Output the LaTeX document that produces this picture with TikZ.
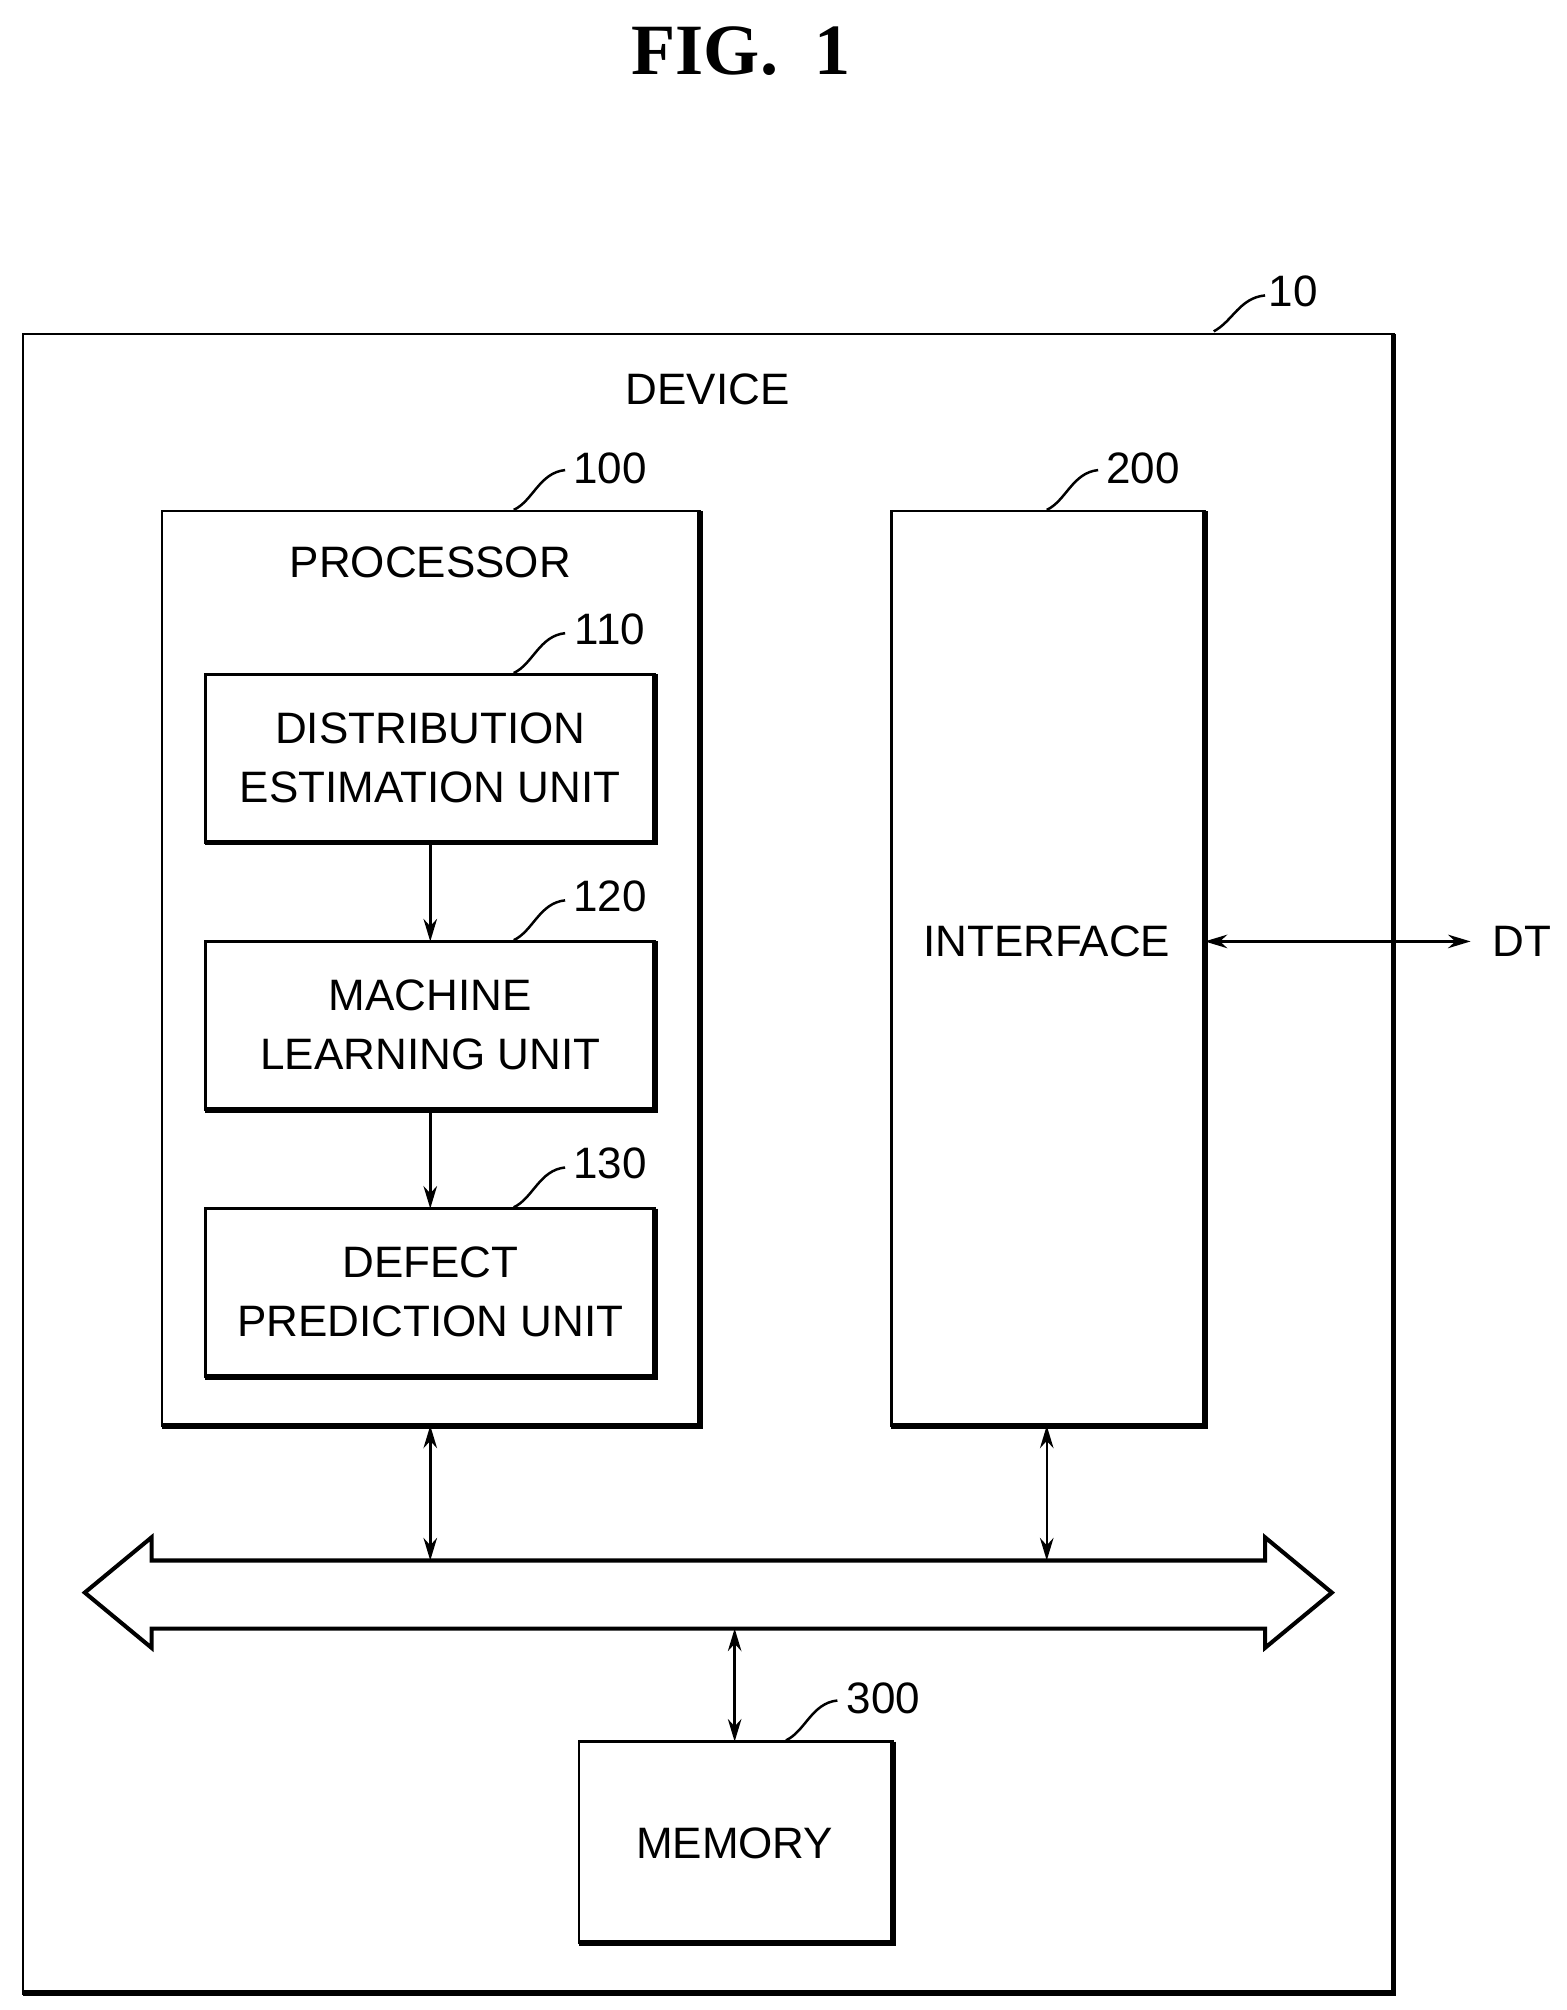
\documentclass[tikz,border=0pt]{standalone}
\usepackage{fontspec}
\setmainfont{Liberation Sans}
\newfontfamily\titlefont{Liberation Serif}
\usetikzlibrary{arrows.meta}
\begin{document}
\begin{tikzpicture}[x=0.02cm,y=-0.02cm,
  txt/.style={font=\fontsize{19.5}{24}\selectfont,align=center,inner sep=0},
  box/.style={draw,line width=1.1pt},
  shd/.style={line width=2.6pt},
  lead/.style={line width=1.1pt},
  arr/.style={line width=1.1pt,{Stealth[length=10pt,width=6pt]}-{Stealth[length=10pt,width=6pt]}},
  one/.style={line width=1.1pt,-{Stealth[length=10pt,width=6pt]}}]
\useasboundingbox (0,0) rectangle (1220,1565);
\node[font=\titlefont\bfseries\fontsize{32}{36}\selectfont] (title) at (577,40) {FIG.\ \ 1};
% outer
\draw[box] (18,260) rectangle (1085,1552);
\draw[shd] (1085,260) -- (1085,1552) -- (18,1552);
\node[txt] (l10) at (1007,227) {10};
\draw[lead] (945,258) .. controls (960,250) and (965,232) .. (985,230);
\node[txt] (dev) at (551,303) {DEVICE};
% processor
\draw[box] (126,398) rectangle (545,1110);
\draw[shd] (545,398) -- (545,1110) -- (126,1110);
\node[txt] (l100) at (475,365) {100};
\draw[lead] (400,397) .. controls (415,390) and (420,368) .. (440,366);
\node[txt] (proc) at (335,438) {PROCESSOR};
% units
\foreach \n/\y/\a/\b in {110/525/DISTRIBUTION/ESTIMATION UNIT,120/733/MACHINE/LEARNING UNIT,130/941/DEFECT/PREDICTION UNIT}{
  \draw[box] (160,\y) rectangle (510,\y+131);
  \draw[shd] (510,\y) -- (510,\y+131) -- (160,\y+131);
  \node[txt] (u\n) at (335,\y+65) {\a\\[2pt]\b};
  \node[txt] (l\n) at (475,\y-35) {\n};
  \draw[lead] (400,\y-1) .. controls (415,\y-8) and (420,\y-30) .. (440,\y-32);
}
\coordinate (a1) at (335,656); \coordinate (b1) at (335,733);
\coordinate (a2) at (335,864); \coordinate (b2) at (335,941);
\draw[one] (a1) -- (b1);
\draw[one] (a2) -- (b2);
% interface
\draw[box] (694,398) rectangle (938,1110);
\draw[shd] (938,398) -- (938,1110) -- (694,1110);
\node[txt] (l200) at (890,365) {200};
\draw[lead] (815,397) .. controls (830,390) and (835,368) .. (855,366);
\node[txt] (intf) at (815,733) {INTERFACE};
\coordinate (ie) at (938,733);
\node[txt,anchor=west] (dt) at (1162,733) {DT};
\draw[arr] (ie) -- (1145,733);
% bus
\draw[line width=1.8pt] (66,1240) -- (118,1197) -- (118,1215) -- (985,1215) -- (985,1197) -- (1037,1240)
  -- (985,1283) -- (985,1268) -- (118,1268) -- (118,1283) -- cycle;
\coordinate (p1) at (335,1110); \coordinate (p2) at (335,1215);
\coordinate (i1) at (815,1110); \coordinate (i2) at (815,1215);
\coordinate (m1) at (572,1268); \coordinate (m2) at (572,1356);
\draw[arr] (p1) -- (p2);
\draw[arr] (i1) -- (i2);
\draw[arr] (m1) -- (m2);
% memory
\draw[box] (451,1356) rectangle (695,1513);
\draw[shd] (695,1356) -- (695,1513) -- (451,1513);
\node[txt] (l300) at (688,1322) {300};
\draw[lead] (612,1355) .. controls (627,1348) and (632,1326) .. (652,1324);
\node[txt] (mem) at (572,1435) {MEMORY};
\end{tikzpicture}
\end{document}
